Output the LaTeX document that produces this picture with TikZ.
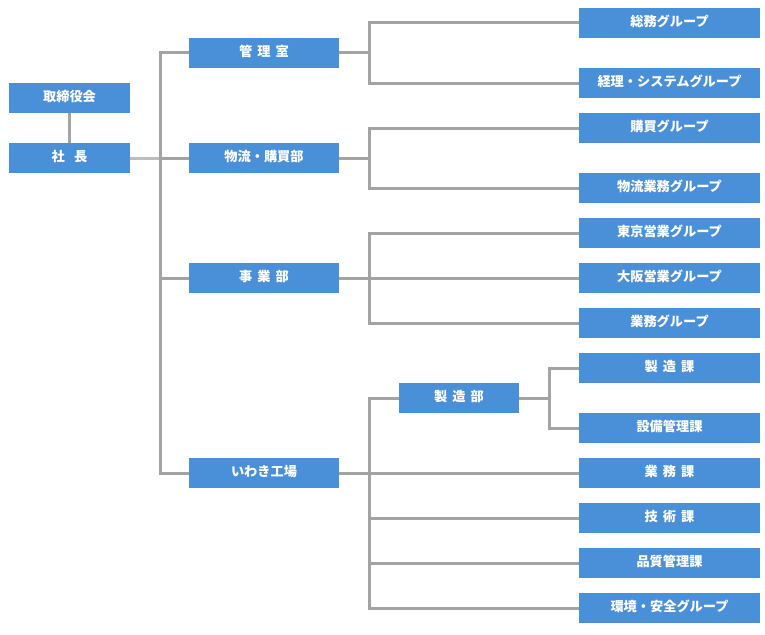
\documentclass[tikz,border=0pt]{standalone}
\usepackage{fontspec}
\newfontfamily\jp{Noto Sans CJK JP}
\definecolor{boxblue}{HTML}{4A90D9}
\definecolor{linegray}{HTML}{A3A3A3}
\definecolor{lightgray}{HTML}{BDBDBD}
\newcommand{\gp}{\hspace{0.38em}}
\begin{document}
\begin{tikzpicture}[x=1pt,y=-1pt,
  box/.style={fill=boxblue, text=white, font=\jp\bfseries\fontsize{13.2}{15}\selectfont,
    minimum height=30pt, inner sep=0pt, text height=9pt, text depth=2pt},
  col1/.style={box, minimum width=121pt},
  col2/.style={box, minimum width=150pt},
  col3/.style={box, minimum width=120pt},
  col4/.style={box, minimum width=181pt},
  conn/.style={draw=linegray, line width=3pt},
  lconn/.style={draw=lightgray, line width=3pt}]
\useasboundingbox (0,0) rectangle (765,634);
% column 1
\node[col1] (torishimari) at (69.5,98) {取締役会};
\node[col1] (shacho) at (69.5,158) {社\hspace{0.7em}長};
% column 2
\node[col2] (kanri) at (264,53) {管\gp 理\gp 室};
\node[col2] (butsuryu) at (264,158) {物流・購買部};
\node[col2] (jigyo) at (264,278) {事\gp 業\gp 部};
\node[col2] (iwaki) at (264,473) {いわき工場};
% column 3
\node[col3] (seizobu) at (459,398) {製\gp 造\gp 部};
% column 4
\node[col4] (soumu) at (669.5,23) {総務グループ};
\node[col4] (keiri) at (669.5,83) {経理・システムグループ};
\node[col4] (kobai) at (669.5,128) {購買グループ};
\node[col4] (butsugyo) at (669.5,188) {物流業務グループ};
\node[col4] (tokyo) at (669.5,233) {東京営業グループ};
\node[col4] (osaka) at (669.5,278) {大阪営業グループ};
\node[col4] (gyomug) at (669.5,323) {業務グループ};
\node[col4] (seizoka) at (669.5,368) {製\gp 造\gp 課};
\node[col4] (setsubi) at (669.5,428) {設備管理課};
\node[col4] (gyomuka) at (669.5,473) {業\gp 務\gp 課};
\node[col4] (gijutsu) at (669.5,518) {技\gp 術\gp 課};
\node[col4] (hinshitsu) at (669.5,563) {品質管理課};
\node[col4] (kankyo) at (669.5,608) {環境・安全グループ};
% connectors
\draw[conn] (torishimari.south) -- (shacho.north);
\draw[lconn] (shacho.east) -- ++(30,0) coordinate (s1);
\draw[conn] (kanri.west) -| (s1) |- (iwaki.west);
\draw[conn] (s1) -- (butsuryu.west);
\draw[conn] (jigyo.west) -- (jigyo.west -| s1);
% kanri
\draw[conn] (kanri.east) -- ++(30,0) coordinate (s2a);
\draw[conn] (soumu.west) -| (s2a) |- (keiri.west);
% butsuryu
\draw[conn] (butsuryu.east) -- ++(30,0) coordinate (s2b);
\draw[conn] (kobai.west) -| (s2b) |- (butsugyo.west);
% jigyo
\draw[conn] (jigyo.east) -- (osaka.west);
\draw[conn] (tokyo.west) -| ([xshift=30pt]jigyo.east) |- (gyomug.west);
% iwaki
\draw[conn] (iwaki.east) -- (gyomuka.west);
\draw[conn] (seizobu.west) -| ([xshift=30pt]iwaki.east) |- (kankyo.west);
\draw[conn] (gijutsu.west) -- ([xshift=30pt]gijutsu.west -| iwaki.east);
\draw[conn] (hinshitsu.west) -- ([xshift=30pt]hinshitsu.west -| iwaki.east);
% seizobu
\draw[conn] (seizobu.east) -- ++(30,0) coordinate (s3);
\draw[conn] (seizoka.west) -| (s3) |- (setsubi.west);
\end{tikzpicture}
\end{document}
